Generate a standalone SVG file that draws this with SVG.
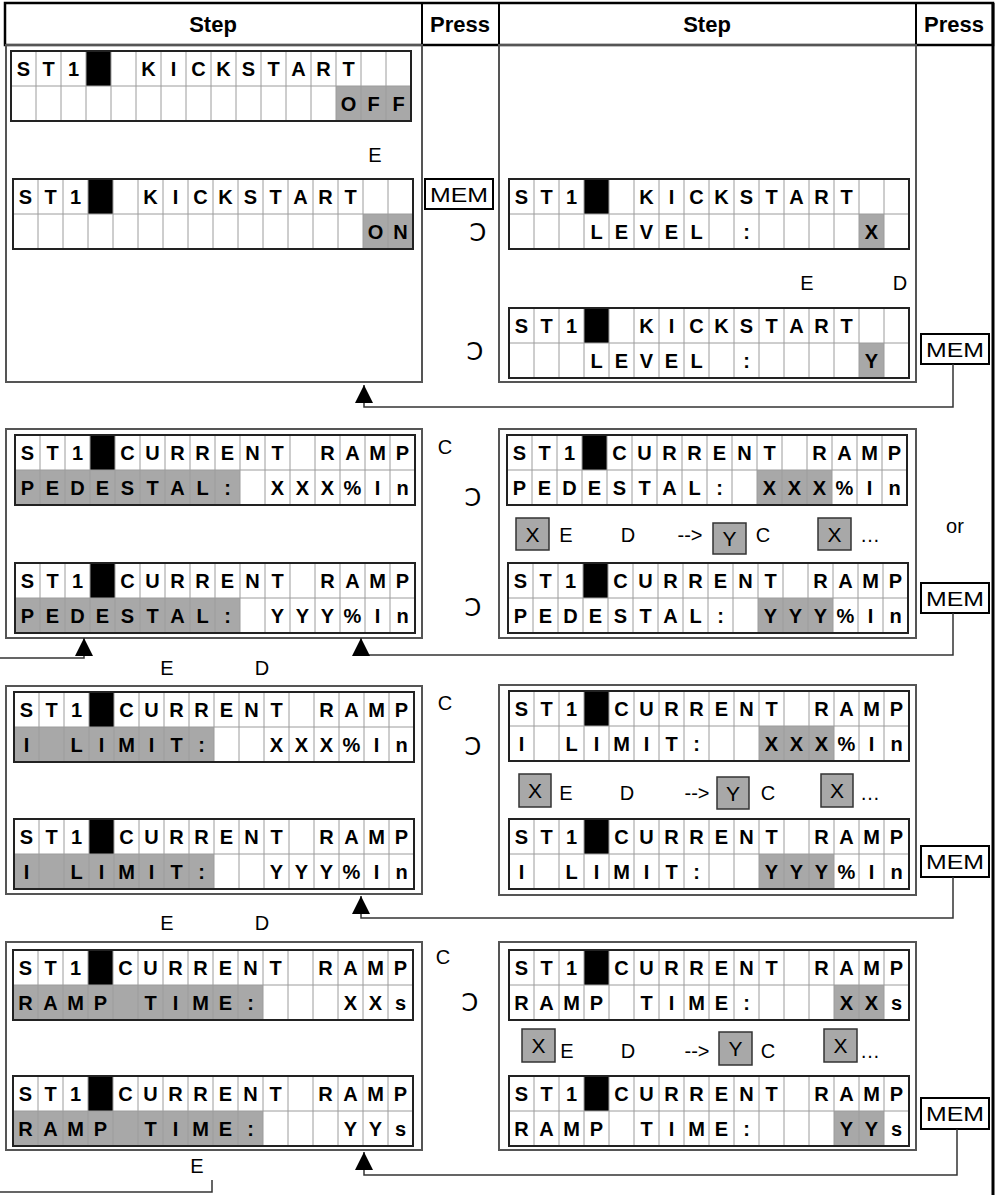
<svg xmlns="http://www.w3.org/2000/svg" xmlns:xlink="http://www.w3.org/1999/xlink" width="1000" height="1195" viewBox="0 0 1000 1195">
<style>
.bg{fill:#fff}
.hl{fill:#a8a8a8}
.cur{fill:#000}
.gl{fill:none;stroke:#9c9c9c;stroke-width:1}
.gb{fill:none;stroke:#222;stroke-width:2}
.lcd{font-family:"Liberation Sans",Arial,sans-serif;font-weight:bold;fill:#000;text-anchor:middle}
.sec{fill:none;stroke:#555;stroke-width:2}
.hdr{font-family:"Liberation Sans",Arial,sans-serif;font-weight:bold;text-anchor:middle;fill:#000}
.lbl{font-family:"Liberation Sans","DejaVu Sans",Arial,sans-serif;text-anchor:middle;fill:#000}
.rc{font-family:"DejaVu Sans",sans-serif;text-anchor:middle;fill:#000}
.mem{font-family:"Liberation Sans",Arial,sans-serif;text-anchor:middle;fill:#000}
.key{fill:#fff;stroke:#000;stroke-width:2}
.gk{fill:#a8a8a8;stroke:#333;stroke-width:1.5}
.con{fill:none;stroke:#333;stroke-width:1.5}
</style>
<defs>
<g id="grid">
<path class="gl" d="M25,0V70M50,0V70M75,0V70M100,0V70M125,0V70M150,0V70M175,0V70M200,0V70M225,0V70M250,0V70M275,0V70M300,0V70M325,0V70M350,0V70M375,0V70M0,35H400"/>
<rect class="gb" width="400" height="70"/>
</g>
<marker id="ah" viewBox="0 0 18 18" markerWidth="18" markerHeight="18" refX="18" refY="9" orient="auto" markerUnits="userSpaceOnUse">
<path d="M0,0L18,9L0,18z" fill="#000"/>
</marker>
</defs>

<g id="table" font-size="22">
<rect x="5" y="3" width="988" height="42" fill="none" stroke="#000" stroke-width="2.5"/>
<path d="M422,3V45M499,3V45M916,3V45" stroke="#000" stroke-width="2"/>
<line x1="993" y1="3" x2="993" y2="1195" stroke="#000" stroke-width="3"/>
<text class="hdr" x="213" y="32">Step</text>
<text class="hdr" x="460" y="32">Press</text>
<text class="hdr" x="707" y="32">Step</text>
<text class="hdr" x="954" y="32">Press</text>
</g>

<g id="sections">
<rect class="sec" x="6" y="45" width="416" height="337"/>
<rect class="sec" x="499" y="45" width="417" height="337"/>
<rect class="sec" x="6" y="429" width="416" height="209"/>
<rect class="sec" x="499" y="429" width="417" height="209"/>
<rect class="sec" x="6" y="686" width="416" height="208"/>
<rect class="sec" x="499" y="685" width="417" height="210"/>
<rect class="sec" x="6" y="942" width="416" height="208"/>
<rect class="sec" x="499" y="942" width="417" height="208"/>
</g>

<g id="displays" font-size="20">
<g id="lcd-a" transform="translate(11,51)">
<rect class="bg" width="400" height="70"/>
<rect class="hl" x="325" y="35" width="75" height="35"/>
<rect class="cur" x="75" width="25" height="35"/>
<use href="#grid"/>
<text class="lcd" x="12.5 37.5 62.5 137.5 162.5 187.5 212.5 237.5 262.5 287.5 312.5 337.5" y="25">ST1KICKSTART</text>
<text class="lcd" x="337.5 362.5 387.5" y="60">OFF</text>
</g>
<g id="lcd-b" transform="translate(13,179)">
<rect class="bg" width="400" height="70"/>
<rect class="hl" x="350" y="35" width="50" height="35"/>
<rect class="cur" x="75" width="25" height="35"/>
<use href="#grid"/>
<text class="lcd" x="12.5 37.5 62.5 137.5 162.5 187.5 212.5 237.5 262.5 287.5 312.5 337.5" y="25">ST1KICKSTART</text>
<text class="lcd" x="362.5 387.5" y="60">ON</text>
</g>
<g id="lcd-c" transform="translate(509,179)">
<rect class="bg" width="400" height="70"/>
<rect class="hl" x="350" y="35" width="25" height="35"/>
<rect class="cur" x="75" width="25" height="35"/>
<use href="#grid"/>
<text class="lcd" x="12.5 37.5 62.5 137.5 162.5 187.5 212.5 237.5 262.5 287.5 312.5 337.5" y="25">ST1KICKSTART</text>
<text class="lcd" x="87.5 112.5 137.5 162.5 187.5 237.5 362.5" y="60">LEVEL:X</text>
</g>
<g id="lcd-d" transform="translate(509,308)">
<rect class="bg" width="400" height="70"/>
<rect class="hl" x="350" y="35" width="25" height="35"/>
<rect class="cur" x="75" width="25" height="35"/>
<use href="#grid"/>
<text class="lcd" x="12.5 37.5 62.5 137.5 162.5 187.5 212.5 237.5 262.5 287.5 312.5 337.5" y="25">ST1KICKSTART</text>
<text class="lcd" x="87.5 112.5 137.5 162.5 187.5 237.5 362.5" y="60">LEVEL:Y</text>
</g>

<g id="lcd-e" transform="translate(15,435)">
<rect class="bg" width="400" height="70"/>
<rect class="hl" x="0" y="35" width="225" height="35"/>
<rect class="cur" x="75" width="25" height="35"/>
<use href="#grid"/>
<text class="lcd" x="12.5 37.5 62.5 112.5 137.5 162.5 187.5 212.5 237.5 262.5 312.5 337.5 362.5 387.5" y="25">ST1CURRENTRAMP</text>
<text class="lcd" x="12.5 37.5 62.5 87.5 112.5 137.5 162.5 187.5 212.5 262.5 287.5 312.5 337.5 362.5 387.5" y="60">PEDESTAL:XXX%In</text>
</g>
<g id="lcd-f" transform="translate(15,563)">
<rect class="bg" width="400" height="70"/>
<rect class="hl" x="0" y="35" width="225" height="35"/>
<rect class="cur" x="75" width="25" height="35"/>
<use href="#grid"/>
<text class="lcd" x="12.5 37.5 62.5 112.5 137.5 162.5 187.5 212.5 237.5 262.5 312.5 337.5 362.5 387.5" y="25">ST1CURRENTRAMP</text>
<text class="lcd" x="12.5 37.5 62.5 87.5 112.5 137.5 162.5 187.5 212.5 262.5 287.5 312.5 337.5 362.5 387.5" y="60">PEDESTAL:YYY%In</text>
</g>
<g id="lcd-g" transform="translate(507,435)">
<rect class="bg" width="400" height="70"/>
<rect class="hl" x="250" y="35" width="75" height="35"/>
<rect class="cur" x="75" width="25" height="35"/>
<use href="#grid"/>
<text class="lcd" x="12.5 37.5 62.5 112.5 137.5 162.5 187.5 212.5 237.5 262.5 312.5 337.5 362.5 387.5" y="25">ST1CURRENTRAMP</text>
<text class="lcd" x="12.5 37.5 62.5 87.5 112.5 137.5 162.5 187.5 212.5 262.5 287.5 312.5 337.5 362.5 387.5" y="60">PEDESTAL:XXX%In</text>
</g>
<g id="lcd-h" transform="translate(508,563)">
<rect class="bg" width="400" height="70"/>
<rect class="hl" x="250" y="35" width="75" height="35"/>
<rect class="cur" x="75" width="25" height="35"/>
<use href="#grid"/>
<text class="lcd" x="12.5 37.5 62.5 112.5 137.5 162.5 187.5 212.5 237.5 262.5 312.5 337.5 362.5 387.5" y="25">ST1CURRENTRAMP</text>
<text class="lcd" x="12.5 37.5 62.5 87.5 112.5 137.5 162.5 187.5 212.5 262.5 287.5 312.5 337.5 362.5 387.5" y="60">PEDESTAL:YYY%In</text>
</g>

<g id="lcd-i" transform="translate(14,692)">
<rect class="bg" width="400" height="70"/>
<rect class="hl" x="0" y="35" width="200" height="35"/>
<rect class="cur" x="75" width="25" height="35"/>
<use href="#grid"/>
<text class="lcd" x="12.5 37.5 62.5 112.5 137.5 162.5 187.5 212.5 237.5 262.5 312.5 337.5 362.5 387.5" y="25">ST1CURRENTRAMP</text>
<text class="lcd" x="12.5 62.5 87.5 112.5 137.5 162.5 187.5 262.5 287.5 312.5 337.5 362.5 387.5" y="60">ILIMIT:XXX%In</text>
</g>
<g id="lcd-j" transform="translate(14,819)">
<rect class="bg" width="400" height="70"/>
<rect class="hl" x="0" y="35" width="200" height="35"/>
<rect class="cur" x="75" width="25" height="35"/>
<use href="#grid"/>
<text class="lcd" x="12.5 37.5 62.5 112.5 137.5 162.5 187.5 212.5 237.5 262.5 312.5 337.5 362.5 387.5" y="25">ST1CURRENTRAMP</text>
<text class="lcd" x="12.5 62.5 87.5 112.5 137.5 162.5 187.5 262.5 287.5 312.5 337.5 362.5 387.5" y="60">ILIMIT:YYY%In</text>
</g>
<g id="lcd-k" transform="translate(509,691)">
<rect class="bg" width="400" height="70"/>
<rect class="hl" x="250" y="35" width="75" height="35"/>
<rect class="cur" x="75" width="25" height="35"/>
<use href="#grid"/>
<text class="lcd" x="12.5 37.5 62.5 112.5 137.5 162.5 187.5 212.5 237.5 262.5 312.5 337.5 362.5 387.5" y="25">ST1CURRENTRAMP</text>
<text class="lcd" x="12.5 62.5 87.5 112.5 137.5 162.5 187.5 262.5 287.5 312.5 337.5 362.5 387.5" y="60">ILIMIT:XXX%In</text>
</g>
<g id="lcd-l" transform="translate(509,819)">
<rect class="bg" width="400" height="70"/>
<rect class="hl" x="250" y="35" width="75" height="35"/>
<rect class="cur" x="75" width="25" height="35"/>
<use href="#grid"/>
<text class="lcd" x="12.5 37.5 62.5 112.5 137.5 162.5 187.5 212.5 237.5 262.5 312.5 337.5 362.5 387.5" y="25">ST1CURRENTRAMP</text>
<text class="lcd" x="12.5 62.5 87.5 112.5 137.5 162.5 187.5 262.5 287.5 312.5 337.5 362.5 387.5" y="60">ILIMIT:YYY%In</text>
</g>

<g id="lcd-m" transform="translate(13,950)">
<rect class="bg" width="400" height="70"/>
<rect class="hl" x="0" y="35" width="250" height="35"/>
<rect class="cur" x="75" width="25" height="35"/>
<use href="#grid"/>
<text class="lcd" x="12.5 37.5 62.5 112.5 137.5 162.5 187.5 212.5 237.5 262.5 312.5 337.5 362.5 387.5" y="25">ST1CURRENTRAMP</text>
<text class="lcd" x="12.5 37.5 62.5 87.5 137.5 162.5 187.5 212.5 237.5 337.5 362.5 387.5" y="60">RAMPTIME:XXs</text>
</g>
<g id="lcd-n" transform="translate(13,1076)">
<rect class="bg" width="400" height="70"/>
<rect class="hl" x="0" y="35" width="250" height="35"/>
<rect class="cur" x="75" width="25" height="35"/>
<use href="#grid"/>
<text class="lcd" x="12.5 37.5 62.5 112.5 137.5 162.5 187.5 212.5 237.5 262.5 312.5 337.5 362.5 387.5" y="25">ST1CURRENTRAMP</text>
<text class="lcd" x="12.5 37.5 62.5 87.5 137.5 162.5 187.5 212.5 237.5 337.5 362.5 387.5" y="60">RAMPTIME:YYs</text>
</g>
<g id="lcd-o" transform="translate(509,950)">
<rect class="bg" width="400" height="70"/>
<rect class="hl" x="325" y="35" width="50" height="35"/>
<rect class="cur" x="75" width="25" height="35"/>
<use href="#grid"/>
<text class="lcd" x="12.5 37.5 62.5 112.5 137.5 162.5 187.5 212.5 237.5 262.5 312.5 337.5 362.5 387.5" y="25">ST1CURRENTRAMP</text>
<text class="lcd" x="12.5 37.5 62.5 87.5 137.5 162.5 187.5 212.5 237.5 337.5 362.5 387.5" y="60">RAMPTIME:XXs</text>
</g>
<g id="lcd-p" transform="translate(509,1076)">
<rect class="bg" width="400" height="70"/>
<rect class="hl" x="325" y="35" width="50" height="35"/>
<rect class="cur" x="75" width="25" height="35"/>
<use href="#grid"/>
<text class="lcd" x="12.5 37.5 62.5 112.5 137.5 162.5 187.5 212.5 237.5 262.5 312.5 337.5 362.5 387.5" y="25">ST1CURRENTRAMP</text>
<text class="lcd" x="12.5 37.5 62.5 87.5 137.5 162.5 187.5 212.5 237.5 337.5 362.5 387.5" y="60">RAMPTIME:YYs</text>
</g>
</g>

<g id="keys" font-size="21">
<g id="mem-1">
<rect class="key" x="425" y="179" width="68" height="30"/>
<text class="mem" x="459" y="202" textLength="58" lengthAdjust="spacingAndGlyphs">MEM</text>
</g>
<g id="mem-2">
<rect class="key" x="921" y="334" width="68" height="30"/>
<text class="mem" x="955" y="357" textLength="58" lengthAdjust="spacingAndGlyphs">MEM</text>
</g>
<g id="mem-3">
<rect class="key" x="921" y="583" width="68" height="30"/>
<text class="mem" x="955" y="606" textLength="58" lengthAdjust="spacingAndGlyphs">MEM</text>
</g>
<g id="mem-4">
<rect class="key" x="921" y="846" width="68" height="31"/>
<text class="mem" x="955" y="869" textLength="58" lengthAdjust="spacingAndGlyphs">MEM</text>
</g>
<g id="mem-5">
<rect class="key" x="921" y="1098" width="68" height="31"/>
<text class="mem" x="955" y="1121" textLength="58" lengthAdjust="spacingAndGlyphs">MEM</text>
</g>

<g id="keys-2">
<rect class="gk" x="516" y="518" width="33" height="32"/>
<text class="lbl" x="532.5" y="541.5">X</text>
<rect class="gk" x="713" y="523" width="33" height="31"/>
<text class="lbl" x="729.5" y="546">Y</text>
<rect class="gk" x="818" y="518" width="33" height="32"/>
<text class="lbl" x="834.5" y="541.5">X</text>
</g>
<g id="keys-3">
<rect class="gk" x="519" y="774" width="32" height="33"/>
<text class="lbl" x="535" y="798">X</text>
<rect class="gk" x="717" y="777" width="32" height="32"/>
<text class="lbl" x="733" y="800.5">Y</text>
<rect class="gk" x="821" y="774" width="32" height="33"/>
<text class="lbl" x="837" y="798">X</text>
</g>
<g id="keys-4">
<rect class="gk" x="522" y="1029" width="33" height="33"/>
<text class="lbl" x="538.5" y="1053">X</text>
<rect class="gk" x="719" y="1032" width="33" height="33"/>
<text class="lbl" x="735.5" y="1056">Y</text>
<rect class="gk" x="824" y="1029" width="33" height="33"/>
<text class="lbl" x="840.5" y="1053">X</text>
</g>
</g>

<g id="labels" font-size="20">
<text class="lbl" x="375" y="162">E</text>
<text class="lbl" x="807" y="290">E</text>
<text class="lbl" x="900" y="290">D</text>

<text class="lbl" x="445" y="454">C</text>
<text class="lbl" x="167" y="675">E</text>
<text class="lbl" x="262" y="675">D</text>
<text class="lbl" x="566" y="542">E</text>
<text class="lbl" x="628" y="542">D</text>
<text class="lbl" x="690" y="542">--&gt;</text>
<text class="lbl" x="763" y="542">C</text>
<text class="lbl" x="870" y="542">…</text>
<text class="lbl" x="955" y="533">or</text>

<text class="lbl" x="445" y="710">C</text>
<text class="lbl" x="167" y="930">E</text>
<text class="lbl" x="262" y="930">D</text>
<text class="lbl" x="566" y="800">E</text>
<text class="lbl" x="627" y="800">D</text>
<text class="lbl" x="697" y="800">--&gt;</text>
<text class="lbl" x="768" y="800">C</text>
<text class="lbl" x="870" y="800">…</text>

<text class="lbl" x="443" y="964">C</text>
<text class="lbl" x="197" y="1173">E</text>
<text class="lbl" x="567" y="1058">E</text>
<text class="lbl" x="628" y="1058">D</text>
<text class="lbl" x="697" y="1058">--&gt;</text>
<text class="lbl" x="768" y="1058">C</text>
<text class="lbl" x="870" y="1058">…</text>
<g font-size="24">
<text class="rc" x="478" y="241">Ↄ</text>
<text class="rc" x="475" y="360">Ↄ</text>
<text class="rc" x="473" y="506">Ↄ</text>
<text class="rc" x="473" y="616">Ↄ</text>
<text class="rc" x="473" y="755">Ↄ</text>
<text class="rc" x="470" y="1011">Ↄ</text>
</g>
</g>

<g id="connectors">
<path class="con" d="M953,364V407H364V385" marker-end="url(#ah)"/>
<path class="con" d="M953,613V655H361V638" marker-end="url(#ah)"/>
<path class="con" d="M0,658H84V638" marker-end="url(#ah)"/>
<path class="con" d="M953,877V918H361V896" marker-end="url(#ah)"/>
<path class="con" d="M957,1129V1175H364V1152" marker-end="url(#ah)"/>
<path class="con" d="M212,1180V1192H0"/>
</g>
</svg>
